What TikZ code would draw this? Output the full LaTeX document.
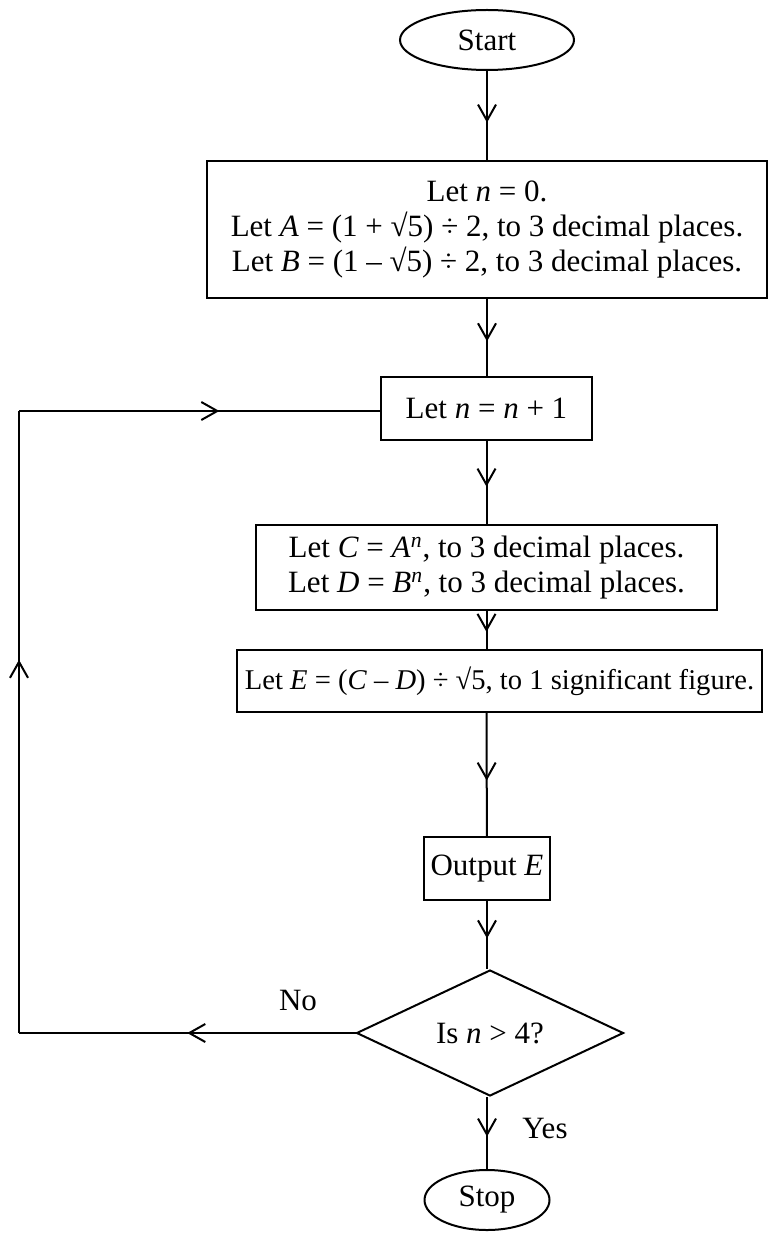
\documentclass[tikz,border=0pt]{standalone}
\usepackage{fontspec}
\setmainfont{Liberation Serif}
\usetikzlibrary{shapes.geometric,arrows.meta,decorations.markings}

\begin{document}
\begin{tikzpicture}[x=0.5pt,y=-0.5pt,
      every node/.style = {align=center, font=\fontsize{15.5}{17.5}\selectfont},
      terminal/.style = {draw, line width=1pt, ellipse, inner sep=0pt},
      stepbox/.style = {draw, line width=1pt, rectangle, inner sep=0pt},
      test/.style = {draw, line width=1pt, diamond, inner sep=0pt},
      flow/.style = {line width=1pt, decoration={markings,
        mark=at position #1 with {\arrow{Straight Barb[length=8pt,width=9pt,line width=1pt]}}},
        postaction={decorate}},
      flow/.default=0.55]
  \useasboundingbox (0,0) rectangle (779,1235);
  \node[terminal, minimum width=87pt, minimum height=30pt] (start) at (487,40) {Start};
  \node[stepbox, minimum width=280pt, minimum height=68.5pt] (init) at (487,229.5)
    {Let \textit{n} = 0.\\
     Let \textit{A} = (1 + √5) ÷ 2, to 3 decimal places.\\
     Let \textit{B} = (1 – √5) ÷ 2, to 3 decimal places.};
  \node[stepbox, minimum width=105.5pt, minimum height=31.5pt] (incr) at (486.5,408.5)
    {Let \textit{n} = \textit{n} + 1};
  \node[stepbox, minimum width=230.5pt, minimum height=42.5pt] (powers) at (486.5,567.5)
    {Let \textit{C} = \textit{A}\textsuperscript{\textit{n}}, to 3 decimal places.\\
     Let \textit{D} = \textit{B}\textsuperscript{\textit{n}}, to 3 decimal places.};
  \node[stepbox, minimum width=262.5pt, minimum height=31pt,
    font=\fontsize{14.3}{17.5}\selectfont] (fib) at (499.5,681)
    {Let \textit{E} = (\textit{C} – \textit{D}) ÷ √5, to 1 significant figure.};
  \node[stepbox, minimum width=63pt, minimum height=31.5pt] (out) at (487,868.5)
    {Output \textit{E}};
  \node[test, minimum width=133.5pt, minimum height=63pt, aspect=2.1] (check) at (490,1033)
    {Is \textit{n} > 4?};
  \node[terminal, minimum width=62.5pt, minimum height=30pt] (stop) at (487,1200) {Stop};

  \coordinate (lowleft) at (19,1033);
  \coordinate (upleft) at (19,411);

  \draw[flow=0.58] (start) -- (init);
  \draw[flow] (init) -- (init |- incr.north);
  \draw[flow] (incr) -- (incr |- powers.north);
  \draw[flow] (powers) -- (powers |- fib.north);
  \draw[flow] (powers |- fib.south) -- (out);
  \draw[flow] (out) -- (out |- check.north);
  \draw[flow] (out |- check.south) -- (stop);
  \draw[flow=0.5] (check.west) -- (lowleft);
  \draw[flow=0.6] (lowleft) -- (upleft);
  \draw[flow=0.555] (upleft) -- (incr.west |- upleft);

  \node (nolabel) at (298,1000) {No};
  \node (yeslabel) at (545,1128) {Yes};
\end{tikzpicture}
\end{document}
